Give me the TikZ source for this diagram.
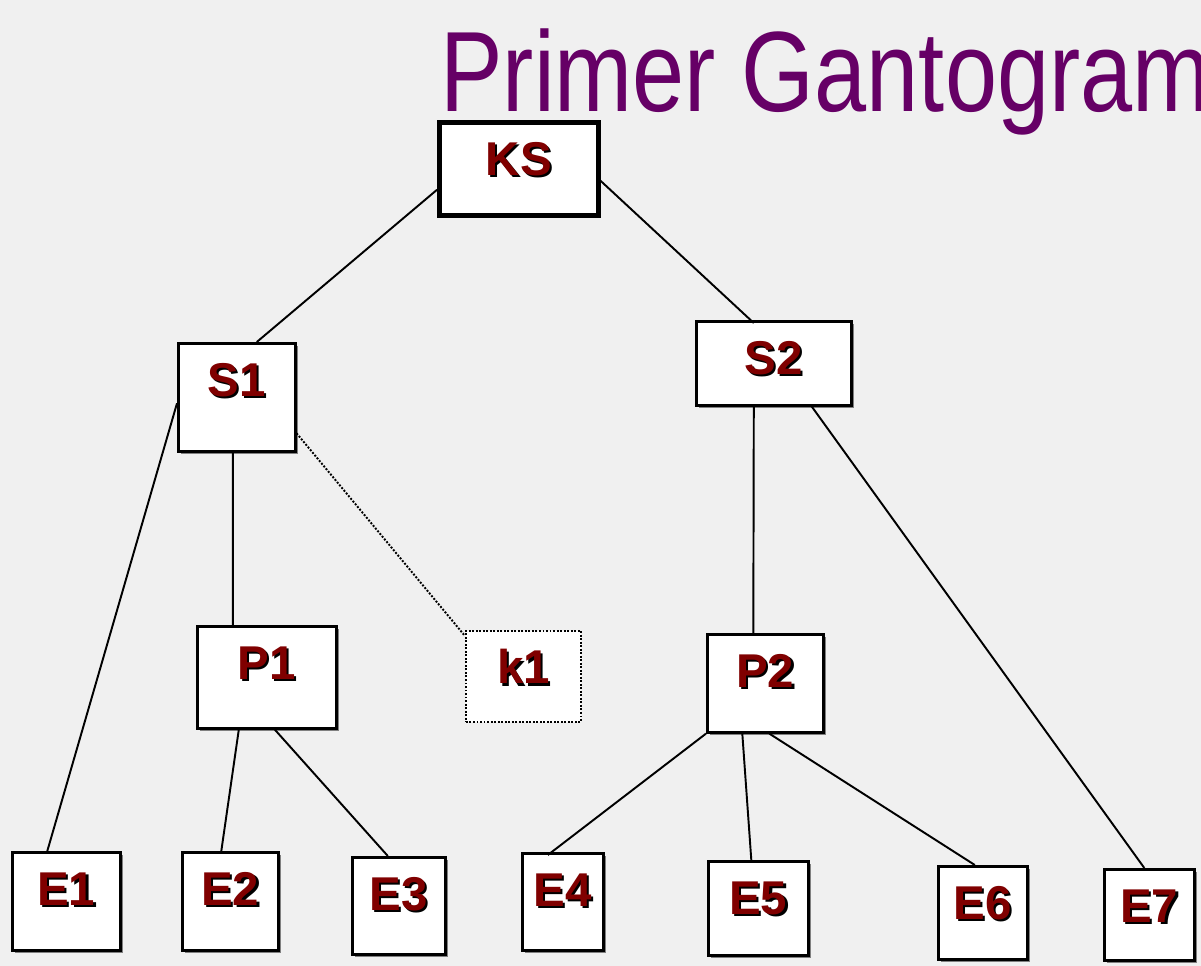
\documentclass[tikz,border=0pt]{standalone}
\usepackage{fontspec}
\setmainfont{Liberation Sans}
\usetikzlibrary{calc, shadows}

\definecolor{bgcol}{RGB}{240,240,240}
\definecolor{boxred}{RGB}{128,0,0}
\definecolor{titlepurple}{RGB}{102,0,102}
\newcommand{\shtext}[1]{\makebox[0pt][l]{\hspace{1.2pt}\raisebox{-1.2pt}{\color{black}#1}}\textcolor{boxred}{#1}}

\begin{document}
\begin{tikzpicture}[x=0.02cm, y=-0.02cm]
\tikzset{
  box/.style 2 args={draw, fill=white, line width=1.5pt, inner sep=0pt,
    anchor=north west, minimum width=#1, text height=1.06cm, text depth=#2,
    font=\fontsize{27}{27}\selectfont\bfseries,
    drop shadow={shadow xshift=1.3pt, shadow yshift=-1.3pt, fill=black!50, opacity=1}},
  dotbox/.style 2 args={draw, fill=white, line width=1.1pt, dash pattern=on 1.1pt off 0.9pt,
    inner sep=0pt, anchor=north west, minimum width=#1, text height=1.06cm, text depth=#2,
    font=\fontsize{27}{27}\selectfont\bfseries},
  link/.style={line width=1.1pt},
  dotlink/.style={line width=1.1pt, dash pattern=on 1.1pt off 0.9pt}
}
  \useasboundingbox (0,0) rectangle (1201,966);
  \fill[bgcol] (0,0) rectangle (1201,966);

  \node[anchor=base west, inner sep=0pt, text=titlepurple, font=\fontsize{65}{65}\selectfont]
    (title) at (440,112) {\scalebox{0.82}[1]{Primer Gantogram}};

  \node[box={3.18cm}{0.80cm}, line width=2.6pt] (KS) at (437,120) {\shtext{KS}};
  \node[box={2.34cm}{1.10cm}] (S1) at (177,342) {\shtext{S1}};
  \node[box={3.10cm}{0.62cm}] (S2) at (695,320) {\shtext{S2}};
  \node[box={2.78cm}{0.98cm}] (P1) at (196,625) {\shtext{P1}};
  \node[dotbox={2.30cm}{0.76cm}] (k1) at (465,630) {\shtext{k1}};
  \node[box={2.32cm}{0.90cm}] (P2) at (706,633) {\shtext{P2}};
  \node[box={2.16cm}{0.90cm}] (E1) at (11,851) {\shtext{E1}};
  \node[box={1.92cm}{0.90cm}] (E2) at (181,851) {\shtext{E2}};
  \node[box={1.86cm}{0.88cm}] (E3) at (351,856) {\shtext{E3}};
  \node[box={1.62cm}{0.88cm}] (E4) at (521,852) {\shtext{E4}};
  \node[box={2.00cm}{0.82cm}] (E5) at (707,860) {\shtext{E5}};
  \node[box={1.78cm}{0.80cm}] (E6) at (937,865) {\shtext{E6}};
  \node[box={1.80cm}{0.76cm}] (E7) at (1103,868) {\shtext{E7}};

  % tree links
  \draw[link] ($(KS.west)+(0,21)$) -- ($(S1.north)+(20,0)$);
  \draw[link] ($(KS.east)+(0,12)$) -- ($(S2.north)+(-20,3)$);
  \draw[link] ($(S1.west)+(0,6)$) -- ($(E1.north)+(-19,0)$);
  \draw[link] ($(S1.south)+(-4,0)$) -- ($(P1.north)+(-34,0)$);
  \draw[dotlink] ($(S1.east)+(0,36)$) -- ($(k1.north west)+(0,6)$);
  \draw[link] ($(S2.south)+(-20,0)$) -- ($(P2.north)+(-12,0)$);
  \draw[link] ($(S2.south)+(38,0)$) -- ($(E7.north)+(-5,0)$);
  \draw[link] ($(P1.south)+(-28,0)$) -- ($(E2.north)+(-9,0)$);
  \draw[link] ($(P1.south)+(8,0)$) -- ($(E3.north)+(-11,0)$);
  \draw[link] (P2.south west) -- ($(E4.north)+(-15,3)$);
  \draw[link] ($(P2.south)+(-23,0)$) -- ($(E5.north)+(-7,0)$);
  \draw[link] ($(P2.south)+(4,0)$) -- ($(E6.north)+(-8,0)$);
\end{tikzpicture}
\end{document}
